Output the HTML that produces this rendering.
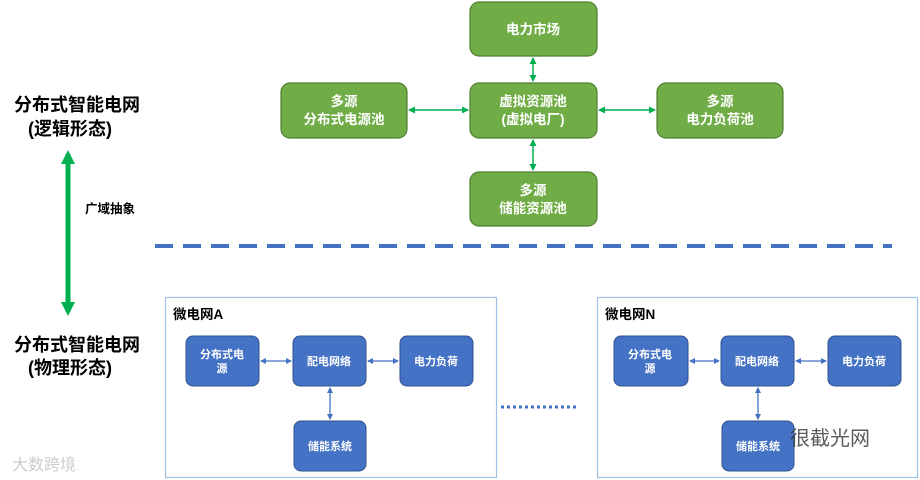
<!DOCTYPE html>
<html><head><meta charset="utf-8"><style>
body{margin:0;background:#fff;}
svg{display:block;font-family:"Liberation Sans","Noto Sans CJK SC",sans-serif;font-weight:bold;}
</style></head><body>
<svg width="920" height="480" viewBox="0 0 920 480" xmlns="http://www.w3.org/2000/svg">
<defs>
<marker id="ga" markerWidth="7" markerHeight="7" refX="6" refY="3.5" orient="auto-start-reverse" markerUnits="userSpaceOnUse"><path d="M0,0 L7,3.5 L0,7 z" fill="#00b050"/></marker>
<marker id="ba" markerWidth="6" markerHeight="6" refX="5" refY="3" orient="auto-start-reverse" markerUnits="userSpaceOnUse"><path d="M0,0 L6,3 L0,6 z" fill="#4472c4"/></marker>
<marker id="bg" markerWidth="14" markerHeight="14" refX="10" refY="7" orient="auto-start-reverse" markerUnits="userSpaceOnUse"><path d="M0,0 L14,7 L0,14 z" fill="#00b050"/></marker>
</defs>
<g fill="#70ad47" stroke="#507e32" stroke-width="1.2">
<rect x="470" y="2" width="127" height="54" rx="9"/>
<rect x="281" y="83" width="126" height="55" rx="9"/>
<rect x="470" y="83" width="127" height="55" rx="9"/>
<rect x="657" y="83" width="126" height="55" rx="9"/>
<rect x="470" y="172" width="127" height="54" rx="9"/>
</g>
<g fill="#fff" font-size="13.5" text-anchor="middle">
<text x="533" y="34">电力市场</text>
<text x="344" y="106">多源</text><text x="344" y="124">分布式电源池</text>
<text x="533" y="106">虚拟资源池</text><text x="533" y="124">(虚拟电厂)</text>
<text x="720" y="106">多源</text><text x="720" y="124">电力负荷池</text>
<text x="533" y="195">多源</text><text x="533" y="213">储能资源池</text>
</g>
<g stroke="#00b050" stroke-width="1.5" fill="none">
<line x1="533" y1="58" x2="533" y2="81" marker-start="url(#ga)" marker-end="url(#ga)"/>
<line x1="409" y1="110" x2="468" y2="110" marker-start="url(#ga)" marker-end="url(#ga)"/>
<line x1="599" y1="110" x2="655" y2="110" marker-start="url(#ga)" marker-end="url(#ga)"/>
<line x1="533" y1="140" x2="533" y2="170" marker-start="url(#ga)" marker-end="url(#ga)"/>
<line x1="68" y1="154" x2="68" y2="312" stroke-width="5" marker-start="url(#bg)" marker-end="url(#bg)"/>
</g>
<line x1="155" y1="246" x2="892" y2="246" stroke="#4472c4" stroke-width="4" stroke-dasharray="18,10"/>
<g fill="#000" font-size="18" text-anchor="middle">
<text x="77" y="111">分布式智能电网</text><text x="70" y="135">(逻辑形态)</text>
<text x="77" y="351">分布式智能电网</text><text x="70" y="374">(物理形态)</text>
</g>
<text x="85" y="213" font-size="12.5" fill="#000">广域抽象</text>
<rect x="165.5" y="297.5" width="331" height="180" fill="none" stroke="#9dc3e6" stroke-width="1.2"/>
<rect x="597.5" y="297.5" width="320" height="180" fill="none" stroke="#9dc3e6" stroke-width="1.2"/>
<text x="173" y="319" font-size="13.5">微电网A</text>
<text x="605" y="319" font-size="13.5">微电网N</text>
<g fill="#4472c4" stroke="#2f528f" stroke-width="1">
<rect x="186" y="336" width="73" height="50" rx="7"/>
<rect x="293" y="336" width="73" height="50" rx="7"/>
<rect x="400" y="336" width="73" height="50" rx="7"/>
<rect x="294" y="421" width="72" height="50" rx="7"/>
<rect x="614" y="336" width="74" height="50" rx="7"/>
<rect x="721" y="336" width="73" height="50" rx="7"/>
<rect x="828" y="336" width="73" height="50" rx="7"/>
<rect x="722" y="421" width="72" height="50" rx="7"/>
</g>
<g fill="#fff" font-size="11" text-anchor="middle">
<text x="222" y="358">分布式电</text><text x="222" y="372">源</text>
<text x="329" y="365">配电网络</text>
<text x="436" y="365">电力负荷</text>
<text x="330" y="450">储能系统</text>
<text x="650" y="358">分布式电</text><text x="650" y="372">源</text>
<text x="757" y="365">配电网络</text>
<text x="864" y="365">电力负荷</text>
<text x="758" y="450">储能系统</text>
</g>
<g stroke="#4472c4" stroke-width="1.3" fill="none">
<line x1="261" y1="361" x2="291" y2="361" marker-start="url(#ba)" marker-end="url(#ba)"/>
<line x1="368" y1="361" x2="398" y2="361" marker-start="url(#ba)" marker-end="url(#ba)"/>
<line x1="330" y1="388" x2="330" y2="419" marker-start="url(#ba)" marker-end="url(#ba)"/>
<line x1="690" y1="361" x2="719" y2="361" marker-start="url(#ba)" marker-end="url(#ba)"/>
<line x1="796" y1="361" x2="826" y2="361" marker-start="url(#ba)" marker-end="url(#ba)"/>
<line x1="758" y1="388" x2="758" y2="419" marker-start="url(#ba)" marker-end="url(#ba)"/>
</g>
<line x1="501" y1="407" x2="578" y2="407" stroke="#4472c4" stroke-width="3" stroke-dasharray="3,3"/>
<text x="790" y="445" font-size="20" fill="#333" font-weight="normal" opacity="0.8">很截光网</text>
<text x="12" y="470" font-size="16" fill="#ccc" font-weight="normal">大数跨境</text>
</svg>
</body></html>
